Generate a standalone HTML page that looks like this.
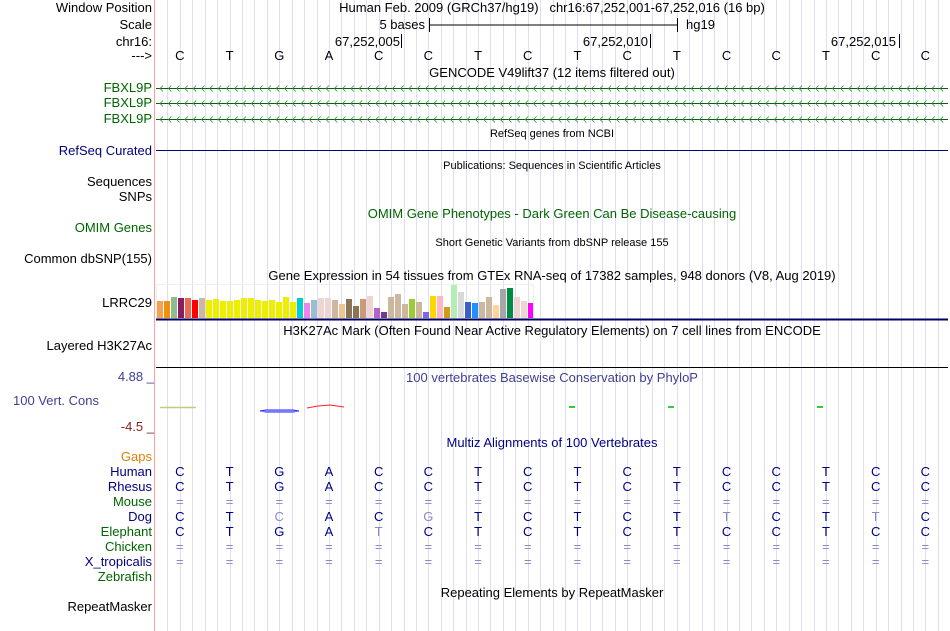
<!DOCTYPE html>
<html><head><meta charset="utf-8"><style>
body{margin:0;width:950px;height:631px;background:#fff;overflow:hidden;position:relative;font-family:"Liberation Sans",sans-serif;font-size:13px;}
.a{position:absolute;white-space:nowrap;line-height:15px}
.l{position:absolute;right:798px;text-align:right;white-space:nowrap;line-height:15px}
.c{position:absolute;white-space:nowrap;line-height:15px;transform:translateX(-50%)}
.s{font-size:11px}
</style></head><body>
<svg id="g" width="950" height="631" style="position:absolute;left:0;top:0"></svg>
<div class="l" style="top:0px">Window Position</div>
<div class="l" style="top:17px">Scale</div>
<div class="l" style="top:34px">chr16:</div>
<div class="l" style="top:48px">---&gt;</div>
<div class="c" style="left:552px;top:0px">Human Feb. 2009 (GRCh37/hg19) &nbsp; chr16:67,252,001-67,252,016 (16 bp)</div>
<div class="a" style="right:525px;top:17px">5 bases</div>
<div class="a" style="left:686px;top:17px">hg19</div>
<div class="a" style="right:550px;top:34px">67,252,005</div>
<div class="a" style="right:302px;top:34px">67,252,010</div>
<div class="a" style="right:54px;top:34px">67,252,015</div>
<div class="c" style="left:552px;top:65px">GENCODE V49lift37 (12 items filtered out)</div>
<div class="l" style="top:80px;color:#006400">FBXL9P</div>
<div class="l" style="top:95px;color:#006400">FBXL9P</div>
<div class="l" style="top:111px;color:#006400">FBXL9P</div>
<div class="c s" style="left:552px;top:127px">RefSeq genes from NCBI</div>
<div class="l" style="top:143px;color:#000080">RefSeq Curated</div>
<div class="c s" style="left:552px;top:159px">Publications: Sequences in Scientific Articles</div>
<div class="l" style="top:174px">Sequences</div>
<div class="l" style="top:189px">SNPs</div>
<div class="c" style="left:552px;top:206px;color:#006400">OMIM Gene Phenotypes - Dark Green Can Be Disease-causing</div>
<div class="l" style="top:220px;color:#006400">OMIM Genes</div>
<div class="c s" style="left:552px;top:236px">Short Genetic Variants from dbSNP release 155</div>
<div class="l" style="top:251px">Common dbSNP(155)</div>
<div class="c" style="left:552px;top:268px">Gene Expression in 54 tissues from GTEx RNA-seq of 17382 samples, 948 donors (V8, Aug 2019)</div>
<div class="l" style="top:295px">LRRC29</div>
<div class="c" style="left:552px;top:323px">H3K27Ac Mark (Often Found Near Active Regulatory Elements) on 7 cell lines from ENCODE</div>
<div class="l" style="top:338px">Layered H3K27Ac</div>
<div class="a" style="right:796px;top:369px;color:#404090">4.88 _</div>
<div class="c" style="left:552px;top:370px;color:#404090">100 vertebrates Basewise Conservation by PhyloP</div>
<div class="l" style="top:393px;right:851px;color:#404090">100 Vert. Cons</div>
<div class="a" style="right:796px;top:419px;color:#8b2020">-4.5 _</div>
<div class="c" style="left:552px;top:435px;color:#000080">Multiz Alignments of 100 Vertebrates</div>
<div class="l" style="top:449px;color:#e08000">Gaps</div>
<div class="l" style="top:464px;color:#000080">Human</div>
<div class="l" style="top:479px;color:#000080">Rhesus</div>
<div class="l" style="top:494px;color:#006400">Mouse</div>
<div class="l" style="top:509px;color:#000080">Dog</div>
<div class="l" style="top:524px;color:#006400">Elephant</div>
<div class="l" style="top:539px;color:#006400">Chicken</div>
<div class="l" style="top:554px;color:#000080">X_tropicalis</div>
<div class="l" style="top:569px;color:#006400">Zebrafish</div>
<div class="c" style="left:552px;top:585px">Repeating Elements by RepeatMasker</div>
<div class="l" style="top:599px">RepeatMasker</div>
<div id="t"></div>
<script>
const bases=["C","T","G","A","C","C","T","C","T","C","T","C","C","T","C","C"];
const dog=["C","T","c","A","C","g","T","C","T","C","T","t","C","T","t","C"];
const elephant=["C","T","G","A","t","C","T","C","T","C","T","C","C","T","C","C"];
const gtexValues=[17,17,21,20,20,18,20,18,19,17,17,18,20,20,18,17,18,16,21,16,20,15,18,20,20,18,14,19,12,19,22,10,6,21,24,14,19,16,6,22,22,11,34,26,16,15,16,21,13,29,30,21,17,15];
const gtexColors=["#f8a050","#f09010","#8fbc8f","#8b1c62","#ee6a50","#ff0000","#cdb79e","#eeee00","#eeee00","#eeee00","#eeee00","#eeee00","#eeee00","#eeee00","#eeee00","#eeee00","#eeee00","#eeee00","#eeee00","#eeee00","#00ced1","#ee82ee","#9ac0cd","#eed5d2","#eed5d2","#cdb79e","#eec591","#8b7355","#8b7355","#cd9b73","#eed5d2","#b460cd","#7a378b","#cdb79e","#cdb79e","#cdb79e","#9acd32","#cdb79e","#7b68ee","#ffd700","#ffb6c1","#cd9b1d","#b4eeb4","#d9d9d9","#3a5fcd","#1e90ff","#cdb79e","#cdb79e","#ffd39b","#a6a6a6","#008b45","#eed5d2","#eed5d2","#ff00ff"];
const NS="http://www.w3.org/2000/svg",g=document.getElementById('g'),t=document.getElementById('t');
function el(n,a){const e=document.createElementNS(NS,n);for(const k in a)e.setAttribute(k,a[k]);g.appendChild(e);return e;}
const x0=155,bw=49.7;
const bx=i=>x0+bw*(i+0.5);
for(let k=1;k<64;k++){const x=Math.round(x0+k*bw/4)+0.5;const e=el('line',{x1:x,x2:x,y1:0,y2:631,stroke:'#dedef6'});}
let e=el('line',{x1:154.5,x2:154.5,y1:0,y2:631,stroke:'#ffa0a0'});
el('path',{d:'M429.5 18v14M429.5 25H677.5M677.5 18v14M401.5 34v14M650.5 34v14M899.5 34v14',stroke:'#000',fill:'none'});
[88,103,119].forEach(y=>{el('line',{x1:156,x2:948,y1:y+0.5,y2:y+0.5,stroke:'#006400'});let d='';for(let x=160;x<948;x+=8.3)d+=`M${x+3} ${y-2.5}L${x} ${y+0.5}L${x+3} ${y+3.5}`;el('path',{d,stroke:'#3a8a3a',fill:'none','stroke-width':0.8});});
el('line',{x1:156,x2:948,y1:150.5,y2:150.5,stroke:'#000080'});
const base=318,bwid=6;
gtexValues.forEach((v,i)=>{const r=el('rect',{x:157+i*7,y:base-v,width:bwid,height:v,fill:gtexColors[i]});});
el('rect',{x:156.5,y:284.5,width:377,height:34,fill:'none',stroke:'#eee'});
el('rect',{x:156,y:318.5,width:792,height:2,fill:'#000060'});
el('line',{x1:156,x2:948,y1:367.5,y2:367.5,stroke:'#000'});
el('line',{x1:160,x2:196,y1:407.5,y2:407.5,stroke:'#c8c880',"stroke-width":1.5});
el('path',{d:'M260 411L266 410H293L299 411L293 412H266Z',stroke:'#2020ff',fill:'#d0d0ff'});
el('path',{d:'M307 408L318 406L330 405L344 407',stroke:'#ff2020',fill:'none',"stroke-width":1});
[572,671,820].forEach(x=>el('rect',{x:x-3,y:406,width:6,height:2,fill:'#30d030'}));
function row(arr,y,name){arr.forEach((b,i)=>{const d=document.createElement('div');d.className='c';d.style.left=bx(i)+'px';d.style.top=y+'px';const lc=b===b.toLowerCase()&&b!=='=';d.style.color=name==='top-base'?'#000':(lc||b==='='?'#8a8ac0':'#000080');d.textContent=b.toUpperCase();t.appendChild(d);});}
row(bases,48,'top-base');
const eq=bases.map(()=> '=');
row(bases,464,'human-base');row(bases,479,'rhesus-base');row(eq,494,'mouse-base');row(dog,509,'dog-base');row(elephant,524,'elephant-base');row(eq,539,'chicken-base');row(eq,554,'xtrop-base');
</script>
</body></html>
